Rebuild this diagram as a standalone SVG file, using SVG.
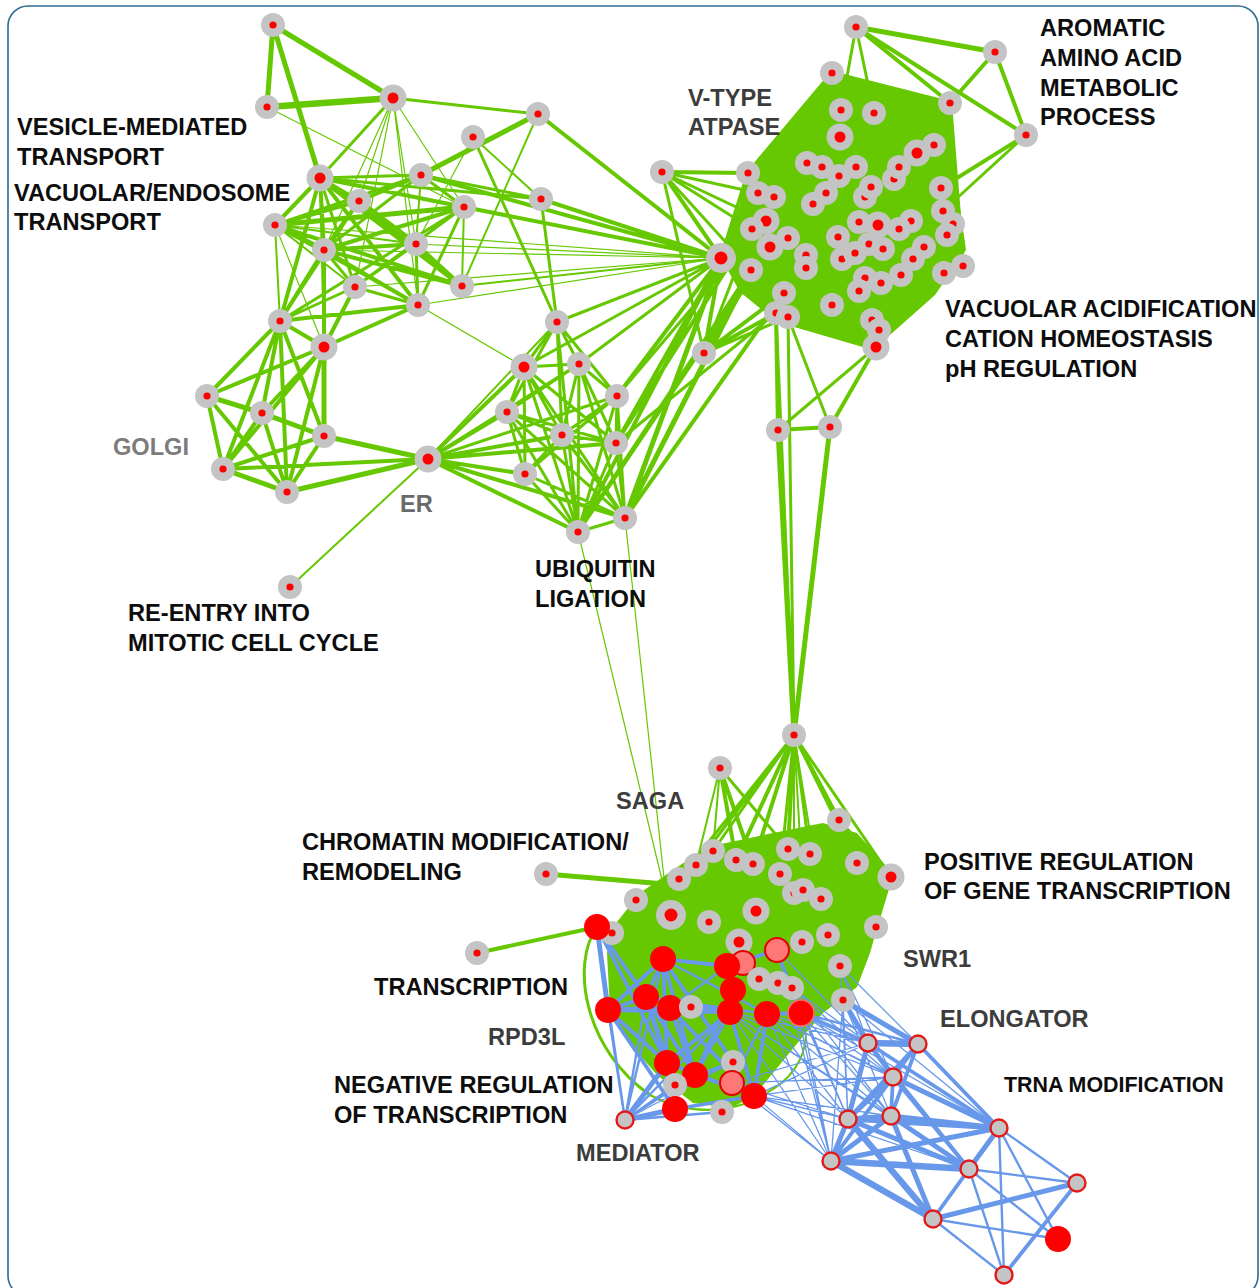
<svg xmlns="http://www.w3.org/2000/svg" xmlns:xlink="http://www.w3.org/1999/xlink" width="1259" height="1288" viewBox="0 0 1259 1288">
<style>
.g1,.g2,.g3,.g4,.g5,.g6{stroke:#66c800;fill:none;stroke-linecap:round}
.g1{stroke-width:1.2}.g2{stroke-width:2}.g3{stroke-width:3}.g4{stroke-width:4}.g5{stroke-width:5}.g6{stroke-width:6.5}
.b1,.b2,.b3,.b4,.b5{stroke:#6898ea;fill:none;stroke-linecap:round}
.b1{stroke-width:1.3}.b2{stroke-width:2.4}.b3{stroke-width:3.8}.b4{stroke-width:5}.b5{stroke-width:6.5}
.fill{fill:#66c800}
text{font-family:"Liberation Sans",Arial,sans-serif;font-weight:bold;font-size:23.6px}
.k{fill:#0d0d0d}.d{fill:#3c3c3c}.l{fill:#7c7c7c}.m{fill:#6a6a6a}
</style>
<defs>
<g id="N"><circle r="12" fill="#c4c4c4"/><circle r="3.6" fill="#ff0000"/></g>
<g id="NB"><circle r="13.5" fill="#c4c4c4"/><circle r="5.5" fill="#ff0000"/></g>
<g id="NH"><circle r="15" fill="#c4c4c4"/><circle r="6.5" fill="#ff0000"/></g>
<circle id="R" r="13" fill="#ff0000"/>
<circle id="P" r="12" fill="#ff7878" stroke="#e40000" stroke-width="2"/>
<circle id="B" r="8.5" fill="#c4c4c4" stroke="#e41a1a" stroke-width="2.4"/>
</defs>
<rect x="8" y="6" width="1250" height="1290" rx="20" fill="#ffffff" stroke="#2e6d92" stroke-width="1.6"/>

<g id="connectors">
<polygon class="fill" points="832,73 950,103 953,160 966,250 935,295 873,350 777,322 740,292 721,258 740,205 747,173"/>
<polygon class="fill" points="640,893 673,870 707,847 773,833 823,823 857,833 887,867 883,907 870,953 857,987 823,1013 800,1040 773,1073 753,1097 730,1108 693,1103 657,1075 627,1040 610,1010 607,953 613,927"/>

<path class="g1" d="M393 98L324 250M393 98L416 244M393 98L359 201M393 98L464 207M393 98L418 305M393 98L355 287M267 107L464 207M473 137L416 244M416 244L721 258M418 305L721 258M355 287L721 258M324 250L721 258M275 225L721 258M578 532L662 880M625 518L664 878M275 225L324 347M418 305L524 367"/>
<path class="g2" d="M538 114L462 286M421 175L416 244M464 207L462 286M275 225L355 287M275 225L280 321M462 286L721 258M320 178L324 347M207 396L324 436M428 459L290 587M275 225L416 244M428 459L557 322M473 137L541 199"/>
<path class="g3" d="M393 98L320 178M393 98L538 114M473 137L557 322M541 199L557 322M320 178L421 175M320 178L541 199M320 178L355 287M421 175L464 207M421 175L541 199M421 175L275 225M421 175L324 250M359 201L280 321M464 207L355 287M464 207L418 305M464 207L280 321M275 225L418 305M324 250L355 287M416 244L355 287M416 244L418 305M355 287L418 305M355 287L280 321M428 459L617 396M428 459L579 364"/>
<path class="g4" d="M538 114L721 258M421 175L721 258M464 207L721 258M541 199L721 258M320 178L464 207M320 178L275 225M320 178L324 250M320 178L418 305M320 178L280 321M320 178L359 201M421 175L359 201M359 201L275 225M359 201L324 250M359 201L462 286M464 207L324 250M275 225L462 286M324 250L416 244M324 250L462 286M324 250L418 305M324 250L280 321M324 250L324 347M324 250L324 436M416 244L462 286M355 287L324 347M418 305L280 321M418 305L324 347M280 321L324 347M280 321L207 396M280 321L262 413M280 321L324 436M280 321L223 469M280 321L287 492M324 347L207 396M324 347L262 413M324 347L223 469M324 347L287 492M207 396L223 469M207 396L287 492M262 413L223 469M262 413L287 492M324 436L223 469M324 436L287 492M223 469L428 459M428 459L524 367M428 459L507 412M428 459L562 435M428 459L525 474M428 459L578 532M428 459L625 518M428 459L616 443"/>
<path class="g5" d="M273 25L267 107M273 25L320 178M273 25L393 98M538 114L421 175M320 178L416 244M320 178L462 286M359 201L416 244M464 207L275 225M275 225L324 250M207 396L262 413M262 413L324 436M324 436L428 459M287 492L428 459M223 469L287 492M324 347L324 436"/>
<path class="g6" d="M267 107L393 98"/>
<path class="g3" d="M557 322L524 367M557 322L579 364M557 322L507 412M557 322L617 396M557 322L562 435M557 322L578 532M524 367L579 364M524 367L507 412M524 367L562 435M524 367L616 443M524 367L525 474M524 367L578 532M524 367L625 518M579 364L507 412M579 364L617 396M579 364L562 435M579 364L616 443M579 364L578 532M579 364L625 518M507 412L562 435M507 412L525 474M507 412L578 532M507 412L616 443M507 412L625 518M617 396L562 435M617 396L616 443M617 396L578 532M617 396L625 518M562 435L616 443M562 435L525 474M562 435L578 532M562 435L625 518M616 443L578 532M616 443L625 518M525 474L578 532M525 474L625 518M578 532L625 518M617 396L525 474"/>
<path class="g4" d="M721 258L578 532M721 258L616 443M721 258L617 396M784 293L625 518M770 247L578 532M752 229L616 443M751 270L578 532M721 258L662 172M662 172L748 173M721 258L748 173M721 258L758 193M721 258L788 238M721 258L806 255M721 258L784 293M721 258L704 353M704 353L751 270M704 353L784 293M704 353L776 313M856 27L950 103M856 27L1026 135M832 73L950 103M832 73L748 173M995 52L950 103M995 52L1026 135M950 103L934 145M950 103L963 266M1026 135L941 188M778 430L830 427M830 427L876 347M778 430L776 313"/>
<path class="g5" d="M721 258L625 518M751 270L625 518M721 258L766 221M721 258L752 229M721 258L770 247M721 258L751 270M856 27L995 52M778 430L794 735M830 427L794 735"/>
<path class="g3" d="M721 258L579 364M721 258L557 322M721 258L524 367M776 313L616 443M766 221L617 396M662 172L758 193M662 172L752 229M662 172L766 221M662 172L704 353M662 172L751 270M721 258L774 197M721 258L776 313M704 353L752 229M704 353L770 247M704 353L788 317M856 27L874 113M856 27L841 110M832 73L807 163M832 73L841 110M832 73L840 137M832 73L758 193M832 73L774 197M950 103L941 188M1026 135L943 211M776 313L794 735M788 317L794 735M778 430L876 347M830 427L788 317M963 266L944 273M876 347L832 305M876 347L788 317"/>

<path class="g3" d="M794 735L679 879M794 735L696 865M794 735L713 851M794 735L857 863M794 735L891 877M794 735L780 874M794 735L810 854M720 768L788 849M839 820L891 877M839 820L857 863M891 877L876 927M891 877L843 1000M597 927C570 965 585 1050 650 1095"/>
<path class="g4" d="M794 735L736 860M794 735L753 864M794 735L788 849M794 735L839 820M720 768L736 860M720 768L753 864M477 953L597 927"/>
<path class="g2" d="M794 735L821 899M794 735L794 893M794 735L803 890M720 768L713 851M720 768L696 865M650 1095Q700 1122 756 1100M768 1092C790 1080 805 1060 806 1035"/>
<path class="g5" d="M546 874L665 884"/>

<path class="b4" d="M597 927L608 1010M608 1010L670 1008M625 1120L667 1063M625 1120L675 1109M843 1000L868 1043M843 1000L918 1044M646 997L675 1085"/>
<path class="b3" d="M597 927L646 997M608 1010L646 997M608 1010L667 1063M646 997L663 959M646 997L691 1007M663 959L727 966M646 997L730 1012M670 1008L730 1012M667 1063L730 1012M695 1075L730 1012M675 1109L754 1096M754 1096L767 1014M727 966L777 950M767 1014L801 1013M663 959L608 1010M801 1013L868 1043M675 1085L733 1062M608 1010L691 1007M608 1010L730 1012M646 997L667 1063M646 997L695 1075M663 959L667 1063M663 959L695 1075M670 1008L695 1075M670 1008L754 1096M730 1012L754 1096M733 990L695 1075M667 1063L754 1096M608 1010L675 1109M597 927L667 1063M663 959L733 1062"/>
<path class="b2" d="M597 927L625 1120M608 1010L625 1120M625 1120L675 1085M625 1120L646 997M695 1075L754 1096M732 1083L767 1014M777 950L801 1013M801 1013L918 1044M663 959L625 1120M625 1120L695 1075M625 1120L730 1012M625 1120L722 1112M663 959L767 1014M646 997L767 1014M727 966L670 1008"/>
<path class="b1" d="M801 1013L893 1077M801 1013L848 1119M801 1013L891 1116M801 1013L831 1161M767 1014L868 1043M767 1014L893 1077M767 1014L848 1119M767 1014L891 1116M767 1014L831 1161M843 1000L893 1077M843 1000L848 1119M843 1000L891 1116M843 1000L831 1161M730 1012L868 1043M730 1012L893 1077M730 1012L848 1119M730 1012L891 1116M730 1012L831 1161M754 1096L868 1043M754 1096L893 1077M754 1096L848 1119M754 1096L891 1116M754 1096L831 1161M792 988L868 1043M792 988L893 1077M792 988L848 1119M792 988L891 1116M792 988L831 1161M840 966L868 1043M840 966L893 1077M840 966L848 1119M840 966L918 1044M777 950L868 1043M777 950L848 1119M777 950L831 1161M732 1083L868 1043M732 1083L893 1077M732 1083L848 1119M732 1083L831 1161M801 1013L999 1128M767 1014L999 1128M843 1000L999 1128M730 1012L969 1169M754 1096L969 1169M625 1120L733 1062M625 1120L608 1010"/>
<path class="b5" d="M868 1043L918 1044M848 1119L933 1219M831 1161L969 1169M831 1161L933 1219"/>
<path class="b4" d="M868 1043L848 1119M893 1077L848 1119M893 1077L999 1128M848 1119L891 1116M848 1119L831 1161M848 1119L999 1128M848 1119L969 1169M891 1116L831 1161M891 1116L999 1128M891 1116L969 1169M891 1116L933 1219M831 1161L999 1128M999 1128L969 1169M933 1219L1077 1183"/>
<path class="b3" d="M868 1043L893 1077M868 1043L999 1128M868 1043L969 1169M918 1044L893 1077M918 1044L848 1119M918 1044L891 1116M918 1044L999 1128M893 1077L891 1116M893 1077L831 1161M893 1077L969 1169M999 1128L933 1219M969 1169L933 1219M1077 1183L1004 1275"/>
<path class="b2" d="M999 1128L1077 1183M999 1128L1004 1275M999 1128L1058 1239M969 1169L1077 1183M969 1169L1004 1275M969 1169L1058 1239M933 1219L1058 1239M933 1219L1004 1275"/>
</g>

<g id="nodes">
<g id="n-a1"><use href="#N" x="273" y="25"/></g>
<g id="n-a2"><use href="#N" x="267" y="107"/></g>
<g id="n-a3"><use href="#NB" x="393" y="98"/></g>
<g id="n-a4"><use href="#N" x="538" y="114"/></g>
<g id="n-a5"><use href="#N" x="473" y="137"/></g>
<g id="n-a6"><use href="#NB" x="320" y="178"/></g>
<g id="n-a7"><use href="#N" x="421" y="175"/></g>
<g id="n-a8"><use href="#N" x="359" y="201"/></g>
<g id="n-a9"><use href="#N" x="464" y="207"/></g>
<g id="n-a10"><use href="#N" x="541" y="199"/></g>
<g id="n-a11"><use href="#N" x="275" y="225"/></g>
<g id="n-a12"><use href="#N" x="324" y="250"/></g>
<g id="n-a13"><use href="#N" x="416" y="244"/></g>
<g id="n-a14"><use href="#N" x="355" y="287"/></g>
<g id="n-a15"><use href="#N" x="462" y="286"/></g>
<g id="n-a16"><use href="#N" x="418" y="305"/></g>
<g id="n-a17"><use href="#N" x="280" y="321"/></g>
<g id="n-a18"><use href="#NB" x="324" y="347"/></g>
<g id="n-a19"><use href="#N" x="207" y="396"/></g>
<g id="n-a20"><use href="#N" x="262" y="413"/></g>
<g id="n-a21"><use href="#N" x="324" y="436"/></g>
<g id="n-a22"><use href="#N" x="223" y="469"/></g>
<g id="n-a23"><use href="#N" x="287" y="492"/></g>
<g id="n-er"><use href="#NB" x="428" y="459"/></g>
<g id="n-a24"><use href="#N" x="290" y="587"/></g>
<g id="n-u1"><use href="#N" x="557" y="322"/></g>
<g id="n-u2"><use href="#NB" x="524" y="367"/></g>
<g id="n-u3"><use href="#N" x="579" y="364"/></g>
<g id="n-u4"><use href="#N" x="507" y="412"/></g>
<g id="n-u5"><use href="#N" x="617" y="396"/></g>
<g id="n-u6"><use href="#N" x="562" y="435"/></g>
<g id="n-u7"><use href="#N" x="616" y="443"/></g>
<g id="n-u8"><use href="#N" x="525" y="474"/></g>
<g id="n-u9"><use href="#N" x="578" y="532"/></g>
<g id="n-u10"><use href="#N" x="625" y="518"/></g>
<g id="n-hub"><use href="#NH" x="721" y="258"/></g>
<g id="n-v"><use href="#N" x="662" y="172"/></g>
<g id="n-n1"><use href="#N" x="704" y="353"/></g>
<g id="n-t1"><use href="#N" x="856" y="27"/></g>
<g id="n-t2"><use href="#N" x="995" y="52"/></g>
<g id="n-t3"><use href="#N" x="832" y="73"/></g>
<g id="n-t4"><use href="#N" x="950" y="103"/></g>
<g id="n-t5"><use href="#N" x="1026" y="135"/></g>
<g id="n-c1"><use href="#N" x="841" y="110"/></g>
<g id="n-c2"><use href="#N" x="874" y="113"/></g>
<g id="n-c3"><use href="#NB" x="840" y="137"/></g>
<g id="n-c4"><use href="#N" x="748" y="173"/></g>
<g id="n-c5"><use href="#N" x="758" y="193"/></g>
<g id="n-c6"><use href="#N" x="774" y="197"/></g>
<g id="n-c7"><use href="#NB" x="766" y="221"/></g>
<g id="n-c8"><use href="#N" x="752" y="229"/></g>
<g id="n-c9"><use href="#NB" x="770" y="247"/></g>
<g id="n-c10"><use href="#N" x="788" y="238"/></g>
<g id="n-c11"><use href="#N" x="806" y="255"/></g>
<g id="n-c55"><use href="#N" x="806" y="268"/></g>
<g id="n-c12"><use href="#N" x="751" y="270"/></g>
<g id="n-c13"><use href="#N" x="807" y="163"/></g>
<g id="n-c14"><use href="#N" x="822" y="167"/></g>
<g id="n-c15"><use href="#N" x="839" y="176"/></g>
<g id="n-c16"><use href="#N" x="856" y="167"/></g>
<g id="n-c17"><use href="#N" x="826" y="193"/></g>
<g id="n-c18"><use href="#N" x="813" y="204"/></g>
<g id="n-c19"><use href="#N" x="865" y="197"/></g>
<g id="n-c20"><use href="#N" x="871" y="187"/></g>
<g id="n-c21"><use href="#N" x="894" y="179"/></g>
<g id="n-c22"><use href="#N" x="899" y="167"/></g>
<g id="n-c23"><use href="#NB" x="917" y="153"/></g>
<g id="n-c24"><use href="#N" x="934" y="145"/></g>
<g id="n-c25"><use href="#N" x="941" y="188"/></g>
<g id="n-c26"><use href="#N" x="943" y="211"/></g>
<g id="n-c27"><use href="#N" x="953" y="224"/></g>
<g id="n-c28"><use href="#N" x="947" y="235"/></g>
<g id="n-c29"><use href="#N" x="963" y="266"/></g>
<g id="n-c30"><use href="#N" x="944" y="273"/></g>
<g id="n-c31"><use href="#N" x="924" y="247"/></g>
<g id="n-c32"><use href="#N" x="913" y="259"/></g>
<g id="n-c33"><use href="#N" x="901" y="275"/></g>
<g id="n-c34"><use href="#N" x="881" y="283"/></g>
<g id="n-c35"><use href="#N" x="865" y="278"/></g>
<g id="n-c36"><use href="#N" x="859" y="291"/></g>
<g id="n-c37"><use href="#N" x="911" y="221"/></g>
<g id="n-c38"><use href="#N" x="899" y="229"/></g>
<g id="n-c39"><use href="#NB" x="878" y="225"/></g>
<g id="n-c40"><use href="#N" x="859" y="222"/></g>
<g id="n-c41"><use href="#N" x="838" y="237"/></g>
<g id="n-c42"><use href="#N" x="842" y="259"/></g>
<g id="n-c43"><use href="#N" x="855" y="253"/></g>
<g id="n-c44"><use href="#N" x="869" y="244"/></g>
<g id="n-c45"><use href="#N" x="883" y="249"/></g>
<g id="n-c46"><use href="#N" x="784" y="293"/></g>
<g id="n-c47"><use href="#N" x="776" y="313"/></g>
<g id="n-c48"><use href="#N" x="788" y="317"/></g>
<g id="n-c49"><use href="#N" x="832" y="305"/></g>
<g id="n-c50"><use href="#N" x="872" y="320"/></g>
<g id="n-c51"><use href="#N" x="879" y="330"/></g>
<g id="n-c52"><use href="#NB" x="876" y="347"/></g>
<g id="n-c53"><use href="#N" x="778" y="430"/></g>
<g id="n-c54"><use href="#N" x="830" y="427"/></g>
<g id="n-m1"><use href="#N" x="794" y="735"/></g>
<g id="n-m2"><use href="#N" x="720" y="768"/></g>
<g id="n-m3"><use href="#N" x="839" y="820"/></g>
<g id="n-m4"><use href="#NB" x="891" y="877"/></g>
<g id="n-m5"><use href="#N" x="857" y="863"/></g>
<g id="n-m6"><use href="#N" x="810" y="854"/></g>
<g id="n-m7"><use href="#N" x="788" y="849"/></g>
<g id="n-m8"><use href="#N" x="780" y="874"/></g>
<g id="n-m9"><use href="#N" x="794" y="893"/></g>
<g id="n-m11"><use href="#N" x="803" y="890"/></g>
<g id="n-m10"><use href="#N" x="821" y="899"/></g>
<g id="n-m12"><use href="#N" x="753" y="864"/></g>
<g id="n-m13"><use href="#N" x="736" y="860"/></g>
<g id="n-m14"><use href="#N" x="713" y="851"/></g>
<g id="n-m15"><use href="#N" x="696" y="865"/></g>
<g id="n-m16"><use href="#N" x="679" y="879"/></g>
<g id="n-m17"><use href="#N" x="636" y="900"/></g>
<g id="n-m18"><use href="#N" x="546" y="874"/></g>
<g id="n-m19"><use href="#NH" x="671" y="915"/></g>
<g id="n-m20"><use href="#N" x="709" y="922"/></g>
<g id="n-m21"><use href="#NB" x="756" y="911"/></g>
<g id="n-m22"><use href="#N" x="828" y="935"/></g>
<g id="n-m23"><use href="#N" x="876" y="927"/></g>
<g id="n-m24"><use href="#NB" x="739" y="942"/></g>
<g id="n-m25"><use href="#N" x="802" y="942"/></g>
<g id="n-m26"><use href="#N" x="840" y="966"/></g>
<g id="n-m32"><use href="#N" x="612" y="933"/></g>
<g id="n-m33"><use href="#N" x="477" y="953"/></g>
<g id="n-p3"><use href="#P" x="743" y="963"/></g>
<g id="n-r1"><use href="#R" x="597" y="927"/></g>
<g id="n-r2"><use href="#R" x="663" y="959"/></g>
<g id="n-r6"><use href="#R" x="727" y="966"/></g>
<g id="n-p1"><use href="#P" x="777" y="950"/></g>
<g id="n-m28"><use href="#N" x="759" y="979"/></g>
<g id="n-m30"><use href="#N" x="778" y="983"/></g>
<g id="n-m29"><use href="#N" x="792" y="988"/></g>
<g id="n-r3"><use href="#R" x="646" y="997"/></g>
<g id="n-r4"><use href="#R" x="608" y="1010"/></g>
<g id="n-r5"><use href="#R" x="670" y="1008"/></g>
<g id="n-r7"><use href="#R" x="733" y="990"/></g>
<g id="n-r8"><use href="#R" x="730" y="1012"/></g>
<g id="n-r9"><use href="#R" x="767" y="1014"/></g>
<g id="n-r10"><circle cx="801" cy="1013" r="13" fill="#ff0000" stroke="#ff6b6b" stroke-width="1.5"/></g>
<g id="n-m31"><use href="#N" x="691" y="1007"/></g>
<g id="n-m27"><use href="#N" x="843" y="1000"/></g>
<g id="n-m34"><use href="#N" x="733" y="1062"/></g>
<g id="n-r11"><use href="#R" x="667" y="1063"/></g>
<g id="n-r12"><use href="#R" x="695" y="1075"/></g>
<g id="n-m35"><use href="#N" x="675" y="1085"/></g>
<g id="n-p2"><use href="#P" x="732" y="1083"/></g>
<g id="n-r13"><use href="#R" x="675" y="1109"/></g>
<g id="n-r14"><use href="#R" x="754" y="1096"/></g>
<g id="n-m36"><use href="#N" x="722" y="1112"/></g>
<g id="n-bx"><use href="#B" x="625" y="1120"/></g>
<g id="n-b1"><use href="#B" x="868" y="1043"/></g>
<g id="n-b2"><use href="#B" x="918" y="1044"/></g>
<g id="n-b3"><use href="#B" x="893" y="1077"/></g>
<g id="n-b4"><use href="#B" x="848" y="1119"/></g>
<g id="n-b5"><use href="#B" x="891" y="1116"/></g>
<g id="n-b6"><use href="#B" x="999" y="1128"/></g>
<g id="n-b7"><use href="#B" x="831" y="1161"/></g>
<g id="n-b8"><use href="#B" x="969" y="1169"/></g>
<g id="n-b9"><use href="#B" x="1077" y="1183"/></g>
<g id="n-b10"><use href="#B" x="933" y="1219"/></g>
<g id="n-b11"><use href="#R" x="1058" y="1239"/></g>
<g id="n-b12"><use href="#B" x="1004" y="1275"/></g>
</g>

<g id="labels">
<text class="k" x="17" y="135">VESICLE-MEDIATED</text>
<text class="k" x="17" y="165">TRANSPORT</text>
<text class="k" x="14" y="201">VACUOLAR/ENDOSOME</text>
<text class="k" x="14" y="230">TRANSPORT</text>
<text class="l" x="113" y="455">GOLGI</text>
<text class="m" x="400" y="512">ER</text>
<text class="k" x="128" y="621">RE-ENTRY INTO</text>
<text class="k" x="128" y="651">MITOTIC CELL CYCLE</text>
<text class="k" x="535" y="577">UBIQUITIN</text>
<text class="k" x="535" y="607">LIGATION</text>
<text class="d" x="688" y="106">V-TYPE</text>
<text class="d" x="688" y="135">ATPASE</text>
<text class="k" x="1040" y="36">AROMATIC</text>
<text class="k" x="1040" y="66">AMINO ACID</text>
<text class="k" x="1040" y="96">METABOLIC</text>
<text class="k" x="1040" y="125">PROCESS</text>
<text class="k" x="945" y="317">VACUOLAR ACIDIFICATION</text>
<text class="k" x="945" y="347">CATION HOMEOSTASIS</text>
<text class="k" x="945" y="377">pH REGULATION</text>
<text class="d" x="616" y="809">SAGA</text>
<text class="k" x="302" y="850">CHROMATIN MODIFICATION/</text>
<text class="k" x="302" y="880">REMODELING</text>
<text class="k" x="924" y="870">POSITIVE REGULATION</text>
<text class="k" x="924" y="899">OF GENE TRANSCRIPTION</text>
<text class="d" x="903" y="967">SWR1</text>
<text class="k" x="374" y="995">TRANSCRIPTION</text>
<text class="d" x="488" y="1045">RPD3L</text>
<text class="d" x="940" y="1027">ELONGATOR</text>
<text class="k" x="1004" y="1092" style="font-size:21.4px">TRNA MODIFICATION</text>
<text class="k" x="334" y="1093">NEGATIVE REGULATION</text>
<text class="k" x="334" y="1123">OF TRANSCRIPTION</text>
<text class="d" x="576" y="1161">MEDIATOR</text>
</g>
</svg>
